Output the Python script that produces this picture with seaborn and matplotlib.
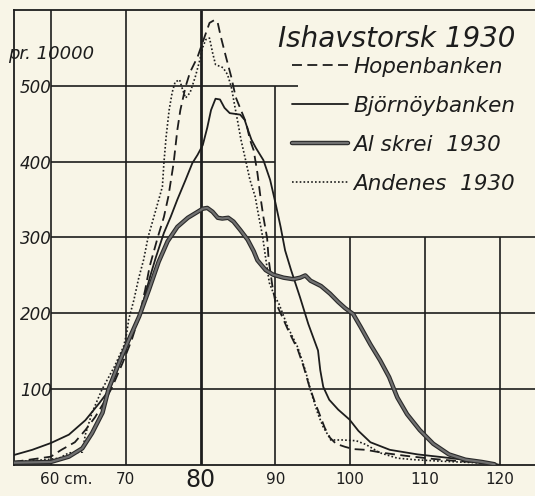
import matplotlib
matplotlib.use("Agg")
import matplotlib.pyplot as plt
import matplotlib.patheffects as pe
from matplotlib.transforms import ScaledTranslation
import seaborn as sns

# fish length (cm) vs. frequency per 10000
hopen_cm = [55, 60, 61.4, 63.2, 64.6, 65.9, 67.3, 68.2, 69.6, 70.8,
            71.8, 72.6, 73.2, 74.3, 75.1, 75.7, 76.4, 76.9, 77.3, 78.0,
            78.6, 79.6, 80.3, 81.2, 81.9, 82.3, 82.7, 83.4, 84.1, 84.7,
            85.4, 86.1, 86.6, 87.1, 87.6, 88.0, 88.4, 88.9, 89.1, 89.6,
            90.0, 90.8, 91.7, 93.0, 93.8, 94.5, 95.2, 95.9, 96.6, 97.3,
            98.1, 99.3, 100.4, 102.1, 104.4, 107.5, 111.1, 114.6, 118.2, 120]
hopen_val = [4, 11, 20, 30, 46, 63, 86, 103, 135, 165,
             196, 231, 262, 301, 327, 354, 398, 442, 468, 499,
             518, 538, 558, 583, 587, 583, 565, 538, 512, 485,
             468, 451, 429, 415, 385, 354, 327, 299, 271, 236,
             215, 198, 178, 152, 129, 105, 85, 67, 49, 36,
             28, 24, 21, 20, 16, 12, 8, 5, 3, 0]

bjorn_cm = [55, 57.5, 60, 62.4, 64.6, 66.5, 67.8, 69.1, 70.4, 71.8, 73.3,
            74.0, 75.1, 76.0, 76.9, 78.0, 78.9, 79.6, 80.3, 80.9, 81.4,
            82.0, 82.6, 83.2, 83.9, 84.6, 85.3, 85.9, 86.4, 86.8, 87.4,
            88.4, 89.3, 90.0, 90.7, 91.3, 92.1, 93.3, 94.4, 95.7, 96.0,
            96.4, 97.2, 98.4, 99.9, 101.1, 102.7, 105.3, 109.0, 113.5, 117.5, 120]
bjorn_val = [13, 20, 29, 40, 59, 82, 99, 130, 162, 196, 250,
             273, 306, 327, 350, 376, 398, 409, 422, 445, 468,
             483, 482, 471, 464, 463, 462, 455, 440, 429, 418,
             402, 376, 346, 314, 283, 257, 221, 186, 151, 125,
             103, 86, 73, 60, 45, 30, 20, 14, 9, 4, 0]

skrei_cm = [55, 60, 62.4, 64.2, 65.5, 66.9, 67.7, 69.1, 70.4, 71.8,
            73.1, 74.4, 75.6, 76.9, 78.3, 79.3, 80.3, 80.9, 81.6, 82.3,
            82.9, 83.7, 84.4, 85.3, 86.3, 87.1, 87.6, 88.7, 89.7, 91.1,
            92.4, 93.3, 94.0, 94.7, 96.1, 97.3, 98.4, 99.3, 100.4, 101.4,
            102.7, 104.0, 105.2, 106.3, 107.6, 109.3, 111.1, 113.2, 115.4, 117.6, 119.3]
skrei_val = [3, 4, 11, 22, 42, 69, 100, 135, 165, 196,
             231, 268, 295, 314, 326, 332, 338, 339, 334, 326,
             325, 326, 321, 310, 297, 282, 270, 257, 251, 247,
             245, 247, 250, 243, 236, 226, 215, 207, 199, 182,
             159, 138, 116, 89, 67, 46, 28, 14, 7, 4, 1]

andenes_cm = [55, 59.3, 61.1, 62.4, 64.2, 64.6, 65.5, 66.8, 68.5, 69.7,
              70.1, 70.4, 71.1, 71.7, 72.4, 73.0, 73.9, 74.9, 75.1, 75.4,
              75.8, 76.2, 76.6, 77.2, 77.6, 78.0, 78.6, 79.3, 79.9, 80.3,
              80.7, 81.2, 81.6, 82.0, 83.0, 83.6, 84.1, 84.6, 85.0, 85.4,
              86.0, 86.6, 87.3, 87.7, 88.3, 88.7, 89.2, 89.8, 90.5, 91.7,
              93.0, 94.0, 94.8, 95.7, 96.4, 97.0, 97.4, 99.0, 100.8, 102.1,
              104.0, 106.3, 108.6, 112.2, 116.8, 120]
andenes_val = [4, 7, 9, 16, 17, 40, 69, 99, 130, 156,
               172, 192, 218, 245, 271, 301, 332, 367, 398, 433,
               468, 491, 505, 508, 495, 484, 491, 512, 534, 551,
               561, 563, 544, 528, 524, 515, 499, 472, 451, 429,
               403, 376, 354, 332, 301, 273, 240, 225, 212, 181,
               155, 125, 95, 67, 50, 40, 33, 33, 32, 27,
               16, 9, 7, 5, 3, 0]

x_ticks = [60, 70, 80, 90, 100, 110, 120]
x_labels = ["60 cm.", "70", "80", "90", "100", "110", "120"]
y_ticks = [100, 200, 300, 400, 500]

paper = "#f8f5e7"
ink = "#1d1d1d"

sns.set_style("white")
plt.rcParams["font.family"] = ["DejaVu Sans"]

fig = plt.figure(figsize=(5.35, 4.96), dpi=100, facecolor=paper)
ax = fig.add_axes([13.5 / 535, 31 / 496, 521.5 / 535, 455 / 496])
ax.set_facecolor(paper)
ax.set_xlim(55, 124.7)
ax.set_ylim(0, 600)

# hand-ruled grid, the legend area top right is left blank
grid_kw = dict(color=ink, lw=1.2, zorder=1)
ax.vlines([60, 70], 0, 600, **grid_kw)
ax.vlines(80, 0, 600, color=ink, lw=2.0, zorder=1)
ax.vlines(90, 0, 500, **grid_kw)
ax.vlines([100, 110, 120], 0, 300, **grid_kw)
ax.hlines([100, 200, 300], 60, 124.7, **grid_kw)
ax.hlines(400, 60, 90, **grid_kw)
ax.hlines(500, 60, 93, **grid_kw)

for side in ["left", "top", "bottom"]:
    ax.spines[side].set_color(ink)
    ax.spines[side].set_linewidth(1.3)
ax.spines["right"].set_visible(False)

handles = []
sns.lineplot(x=hopen_cm, y=hopen_val, ax=ax, color=ink, lw=1.3,
             linestyle=(0, (5.5, 3)), zorder=3)
handles.append(ax.lines[-1])
sns.lineplot(x=bjorn_cm, y=bjorn_val, ax=ax, color=ink, lw=1.3, zorder=3)
handles.append(ax.lines[-1])
sns.lineplot(x=skrei_cm, y=skrei_val, ax=ax, color="#707070", lw=1.6, zorder=4)
ax.lines[-1].set_path_effects([pe.Stroke(linewidth=3.2, foreground="#2a2a2a"), pe.Normal()])
handles.append(ax.lines[-1])
sns.lineplot(x=andenes_cm, y=andenes_val, ax=ax, color=ink, lw=1.2,
             linestyle=(0, (1, 1.3)), zorder=3)
handles.append(ax.lines[-1])

ax.set_xlabel("")
ax.set_ylabel("")
ax.set_xticks(x_ticks)
ax.set_xticklabels(x_labels)
ax.set_yticks(y_ticks)
ax.set_yticklabels([str(v) for v in y_ticks])
ax.tick_params(axis="x", length=3, width=1.2, color=ink, pad=2,
               labelsize=11, labelcolor=ink)
ax.tick_params(axis="y", length=0, pad=-4.5, labelsize=12, labelcolor=ink)
for lbl in ax.get_yticklabels():
    lbl.set_ha("left")
    lbl.set_style("italic")

xl = ax.get_xticklabels()
xl[0].set_ha("left")
xl[0].set_transform(xl[0].get_transform() + ScaledTranslation(-8 / 72, 0, fig.dpi_scale_trans))
xl[2].set_fontsize(17)
xl[2].set_transform(xl[2].get_transform() + ScaledTranslation(0, 3 / 72, fig.dpi_scale_trans))

ax.text(54.26, 542, "pr. 10000", fontsize=13, style="italic", color=ink,
        ha="left", va="center", clip_on=False)
ax.text(0.507, 0.936, "Ishavstorsk 1930", transform=ax.transAxes,
        fontsize=20, style="italic", color=ink, ha="left", va="center")

ax.legend(handles, ["Hopenbanken", "Björnöybanken", "Al skrei  1930", "Andenes  1930"],
          loc="upper left", bbox_to_anchor=(0.534, 0.897), frameon=False,
          prop={"style": "italic", "size": 15.5}, handlelength=2.6,
          handletextpad=0.25, labelspacing=0.88, borderpad=0, borderaxespad=0,
          labelcolor=ink)

fig.savefig("out.png", dpi=100, facecolor=paper)
